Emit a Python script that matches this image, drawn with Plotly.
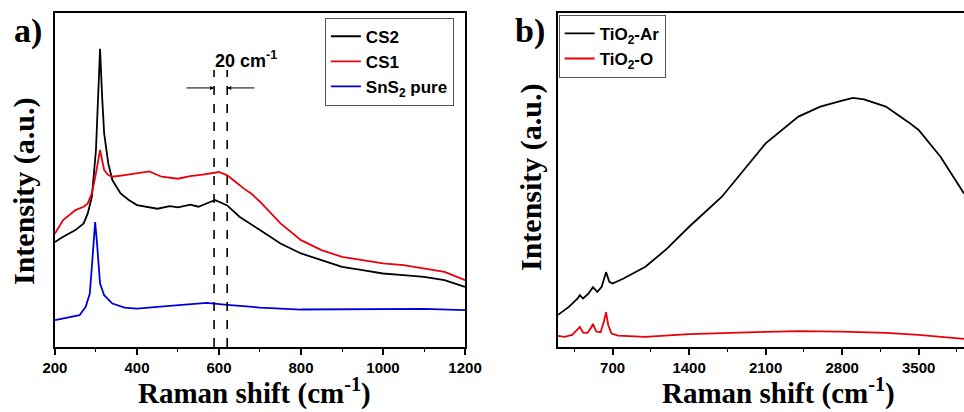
import plotly.graph_objects as go

# Panel a data (Raman shift, intensity a.u.)
a_x_cs2 = [200, 220, 250, 270, 280, 290, 300, 305, 310, 315, 320, 330, 340, 360, 380, 400, 420, 450, 480, 500, 530, 550, 580, 590, 600, 620, 650, 680, 700, 750, 800, 850, 900, 950, 1000, 1050, 1100, 1150, 1200]
a_y_cs2 = [31.4, 33, 35, 37, 40, 45, 59, 75, 89.3, 75, 64, 55, 50, 46, 44, 42.5, 42, 41.4, 42.2, 41.8, 42.6, 42, 43.5, 44, 43.5, 42.4, 39, 36.5, 35, 31, 28, 26, 24, 23, 22, 21.5, 21, 20, 18]
a_x_cs1 = [200, 220, 250, 270, 280, 290, 300, 305, 310, 315, 320, 330, 340, 370, 400, 430, 460, 500, 530, 560, 600, 620, 640, 660, 680, 700, 750, 800, 850, 900, 950, 1000, 1050, 1100, 1150, 1200]
a_y_cs1 = [34, 38, 41, 42, 43, 46, 52, 56, 59, 56, 53, 51.5, 51, 51.5, 52, 52.6, 51, 50.4, 51.2, 51.6, 52.4, 51.4, 49.5, 47.5, 45.8, 43.5, 37, 32, 29, 27, 26, 25, 24.5, 23.5, 22.5, 20]
a_x_sns2 = [200, 230, 260, 275, 285, 290, 295, 298, 302, 306, 310, 320, 340, 370, 400, 450, 500, 570, 620, 700, 800, 900, 1000, 1100, 1200]
a_y_sns2 = [8, 8.8, 9.5, 12, 16, 24, 33, 37.4, 32, 24, 19, 15.5, 13, 11.8, 11.5, 12, 12.5, 13.2, 12.6, 11.8, 11.2, 11.3, 11.5, 11.4, 11]

# Panel b data
b_x_ar = [200, 300, 380, 400, 430, 480, 520, 560, 600, 640, 670, 700, 800, 1000, 1200, 1400, 1700, 2100, 2400, 2600, 2800, 2900, 3000, 3200, 3400, 3500, 3700, 3915]
b_y_ar = [9.6, 12, 14.5, 15.5, 14.5, 16, 17.9, 16.5, 18, 22.4, 19.5, 19, 20.5, 24, 29.5, 36, 45, 61, 69, 72, 73.8, 74.6, 74.2, 72, 67.5, 65, 57, 46]
b_x_o = [200, 260, 330, 370, 400, 430, 470, 500, 520, 550, 590, 620, 640, 660, 690, 750, 1000, 1400, 1800, 2100, 2400, 2800, 3200, 3500, 3915]
b_y_o = [3.3, 3.0, 3.6, 5.0, 6.0, 4.3, 4.2, 5.6, 6.9, 4.6, 4.4, 7.5, 10.4, 6.5, 4.0, 3.4, 3.0, 3.8, 4.3, 4.5, 4.7, 4.6, 4.2, 3.6, 2.4]

a_dash_x = [588, 620]
x_title = "Raman shift (cm<sup>-1</sup>)"
y_title = "Intensity (a.u.)"

fig = go.Figure()
lw = 1.8
fig.add_trace(go.Scatter(x=a_x_cs2, y=a_y_cs2, mode="lines", name="CS2", line=dict(color="black", width=lw), xaxis="x", yaxis="y", legend="legend"))
fig.add_trace(go.Scatter(x=a_x_cs1, y=a_y_cs1, mode="lines", name="CS1", line=dict(color="#e8000b", width=lw), xaxis="x", yaxis="y", legend="legend"))
fig.add_trace(go.Scatter(x=a_x_sns2, y=a_y_sns2, mode="lines", name="SnS<sub>2</sub> pure", line=dict(color="#0000dd", width=lw), xaxis="x", yaxis="y", legend="legend"))
fig.add_trace(go.Scatter(x=b_x_ar, y=b_y_ar, mode="lines", name="TiO<sub>2</sub>-Ar", line=dict(color="black", width=lw), xaxis="x2", yaxis="y2", legend="legend2"))
fig.add_trace(go.Scatter(x=b_x_o, y=b_y_o, mode="lines", name="TiO<sub>2</sub>-O", line=dict(color="#e8000b", width=lw), xaxis="x2", yaxis="y2", legend="legend2"))

tickf = dict(family="Liberation Sans", size=15, color="black", weight="bold")
titlef = dict(family="Liberation Serif", size=29, color="black", weight="bold")
ytitlef = dict(family="Liberation Serif", size=30, color="black", weight="bold")
legf = dict(family="Liberation Sans", size=17, color="black", weight="bold")

ydom = [0.158, 0.968]
common_x = dict(ticks="outside", ticklen=6, tickwidth=1.5, tickcolor="black", automargin=False,
                showline=True, linecolor="black", linewidth=2, mirror=True, showgrid=False, zeroline=False,
                tickfont=tickf)
fig.update_layout(
    width=964, height=412, margin=dict(l=0, r=0, t=0, b=0),
    paper_bgcolor="white", plot_bgcolor="white", showlegend=True,
    xaxis=dict(domain=[0.057, 0.4824], range=[200, 1200], tick0=200, dtick=200,
               minor=dict(ticks="outside", ticklen=3, dtick=100, tickcolor="black", tickwidth=1.2), **common_x),
    yaxis=dict(domain=ydom, range=[0, 100], showticklabels=False, ticks="", automargin=False,
               showline=True, linecolor="black", linewidth=2, mirror=True, showgrid=False, zeroline=False),
    xaxis2=dict(domain=[0.5788, 1.0], range=[200, 3915], tick0=0, dtick=700, anchor="y2",
                minor=dict(ticks="outside", ticklen=3, dtick=350, tickcolor="black", tickwidth=1.2), **common_x),
    yaxis2=dict(domain=ydom, range=[0, 100], anchor="x2", showticklabels=False, ticks="", automargin=False,
                showline=True, linecolor="black", linewidth=2, mirror=False, showgrid=False, zeroline=False),
    legend=dict(x=0.337, y=0.957, xanchor="left", yanchor="top", bgcolor="white",
                bordercolor="#555", borderwidth=1, font=legf, tracegroupgap=0, itemwidth=30),
    legend2=dict(x=0.5795, y=0.964, xanchor="left", yanchor="top", bgcolor="white",
                 bordercolor="#555", borderwidth=1, font=legf, tracegroupgap=0, itemwidth=30),
)

# axis titles
fig.add_annotation(x=254 / 964, y=0.0, xref="paper", yref="paper", text=x_title,
                   showarrow=False, xanchor="center", yanchor="bottom", font=titlef)
fig.add_annotation(x=778 / 964, y=0.0, xref="paper", yref="paper", text=x_title,
                   showarrow=False, xanchor="center", yanchor="bottom", font=titlef)
fig.add_annotation(x=24 / 964, y=(412 - 191) / 412, xref="paper", yref="paper", text=y_title, textangle=-90,
                   showarrow=False, xanchor="center", yanchor="middle", font=ytitlef)
fig.add_annotation(x=531 / 964, y=(412 - 177) / 412, xref="paper", yref="paper", text=y_title, textangle=-90,
                   showarrow=False, xanchor="center", yanchor="middle", font=ytitlef)

for xv in a_dash_x:
    fig.add_shape(type="line", x0=xv, x1=xv, y0=0, y1=83, xref="x", yref="y",
                  line=dict(color="black", width=1.6, dash="dash"))

fig.add_annotation(x=a_dash_x[0], y=77.6, ax=517, ay=77.6, xref="x", yref="y", axref="x", ayref="y",
                   showarrow=True, arrowhead=2, arrowsize=0.8, arrowwidth=1, arrowcolor="black", text="")
fig.add_annotation(x=a_dash_x[1], y=77.6, ax=690, ay=77.6, xref="x", yref="y", axref="x", ayref="y",
                   showarrow=True, arrowhead=2, arrowsize=0.8, arrowwidth=1, arrowcolor="black", text="")
fig.add_annotation(x=a_dash_x[0] - 3, y=86, xref="x", yref="y", text="20 cm<sup>-1</sup>", showarrow=False,
                   xanchor="left", yanchor="middle", font=dict(family="Liberation Sans", size=18, color="black", weight="bold"))

panel_f = dict(family="Liberation Serif", size=34, color="black", weight="bold")
fig.add_annotation(x=0.012, y=0.975, xref="paper", yref="paper", text="a)", showarrow=False,
                   xanchor="left", yanchor="top", font=panel_f)
fig.add_annotation(x=0.532, y=0.975, xref="paper", yref="paper", text="b)", showarrow=False,
                   xanchor="left", yanchor="top", font=panel_f)

fig.write_html("out.html")
